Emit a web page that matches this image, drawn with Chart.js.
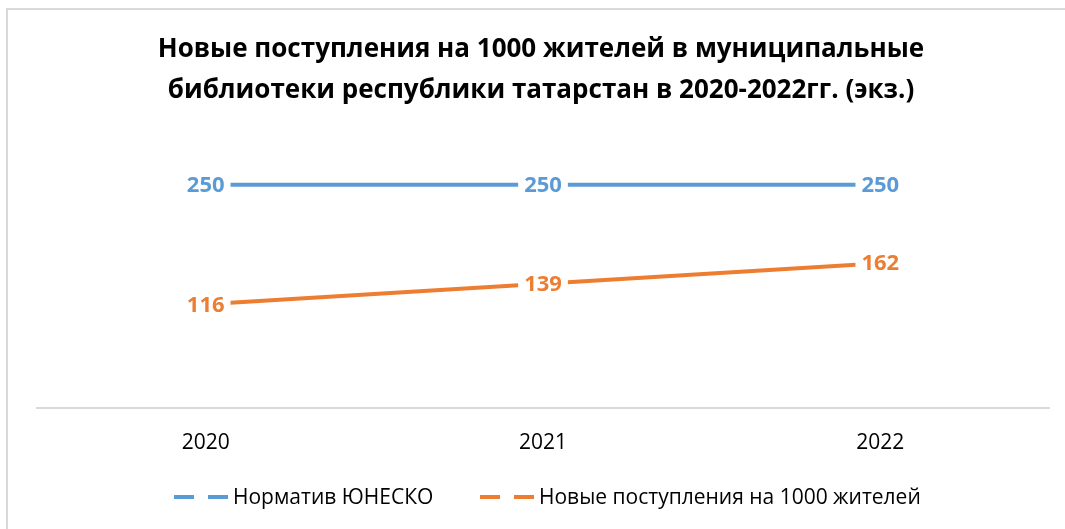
<!DOCTYPE html><html lang="ru">
<head>
  <meta charset="UTF-8">
  <title>Новые поступления</title>
  <script src="https://cdn.jsdelivr.net/npm/chart.js"></script>
  <style>
    html, body { margin: 0; padding: 0; background: #fff; overflow: hidden; }
    #wrap { position: absolute; left: 0; top: 0; width: 1065px; height: 529px; }
    #frame { position: absolute; left: 6px; top: 8px; width: 1080px; height: 560px;
             border: 2px solid #d9d9d9; box-sizing: border-box; pointer-events: none; }
  </style>
</head>
<body>
  <div id="wrap">
    <canvas id="chart" width="1065" height="529"></canvas>
    <div id="frame"></div>
  </div>
  <script>
    const years = ["2020", "2021", "2022"];
    const unesco = [250, 250, 250];
    const newItems = [116, 139, 162];
    const seriesNames = ["Норматив ЮНЕСКО", "Новые поступления на 1000 жителей"];
    const titleLines = [
      "Новые поступления на 1000 жителей в муниципальные",
      "библиотеки республики татарстан в 2020-2022гг. (экз.)"
    ];

    const FONT = "'Open Sans', 'Noto Sans', sans-serif";

    // value labels on white boxes over the lines
    const valueLabels = {
      id: "valueLabels",
      afterDatasetsDraw(chart) {
        const ctx = chart.ctx;
        ctx.save();
        ctx.font = "bold 22px " + FONT;
        ctx.textAlign = "center";
        ctx.textBaseline = "middle";
        chart.data.datasets.forEach((ds, i) => {
          chart.getDatasetMeta(i).data.forEach((pt, j) => {
            const txt = String(ds.data[j]);
            const w = ctx.measureText(txt).width;
            ctx.fillStyle = "#fff";
            ctx.fillRect(pt.x - w / 2 - 6, pt.y - 13, w + 12, 26);
            ctx.fillStyle = ds.borderColor;
            ctx.fillText(txt, pt.x, pt.y + 1);
          });
        });
        ctx.restore();
      }
    };

    // title and legend
    const extras = {
      id: "extras",
      afterDraw(chart) {
        const ctx = chart.ctx;
        ctx.save();
        ctx.fillStyle = "#000";
        ctx.textAlign = "center";
        ctx.textBaseline = "middle";
        ctx.font = "bold 26px " + FONT;
        ctx.fillText(titleLines[0], 541, 50);
        ctx.fillText(titleLines[1], 541, 91);

        ctx.font = "21px " + FONT;
        ctx.textAlign = "left";
        const starts = [174, 480];
        chart.data.datasets.forEach((ds, i) => {
          const x = starts[i], y = 497;
          ctx.strokeStyle = ds.borderColor;
          ctx.lineWidth = 4;
          ctx.beginPath();
          ctx.moveTo(x, y); ctx.lineTo(x + 20, y);
          ctx.moveTo(x + 34, y); ctx.lineTo(x + 54, y);
          ctx.stroke();
          ctx.fillStyle = "#000";
          ctx.fillText(ds.label, x + 59, y + 1);
        });
        ctx.restore();
      }
    };

    new Chart(document.getElementById("chart"), {
      type: "line",
      data: {
        labels: years,
        datasets: [
          { label: seriesNames[0], data: unesco, borderColor: "#5b9bd5", borderWidth: 4, pointRadius: 0, tension: 0 },
          { label: seriesNames[1], data: newItems, borderColor: "#ed7d31", borderWidth: 4, pointRadius: 0, tension: 0 }
        ]
      },
      options: {
        responsive: false,
        animation: false,
        layout: { padding: { top: 140, left: 37, right: 16, bottom: 50 } },
        plugins: { legend: { display: false }, title: { display: false }, tooltip: { enabled: false } },
        scales: {
          x: {
            offset: true,
            grid: { display: false, drawTicks: false },
            border: { color: "#d9d9d9", width: 2 },
            ticks: { color: "#000", font: { family: FONT, size: 21 }, padding: 23 }
          },
          y: { display: false, min: 0, max: 300 }
        }
      },
      plugins: [valueLabels, extras]
    });
  </script>
</body>
</html>
